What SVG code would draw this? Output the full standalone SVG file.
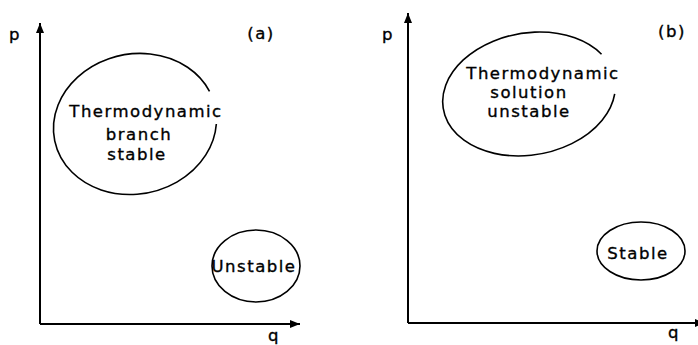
<svg xmlns="http://www.w3.org/2000/svg" width="698" height="345" viewBox="0 0 698 345">
<defs>
<style>
.ax{fill:none;stroke:#000;stroke-width:2}
.el{fill:none;stroke:#000;stroke-width:1.6}
text{font-family:"DejaVu Sans","Liberation Sans",sans-serif;font-size:16.5px;fill:#000;stroke:#000;stroke-width:0.35;letter-spacing:1.5px;text-anchor:middle}
</style>
<marker id="arr" viewBox="0 0 10 8" refX="10" refY="4" markerWidth="10" markerHeight="8" markerUnits="userSpaceOnUse" orient="auto">
<path d="M0,0 L10,4 L0,8 Z" fill="#000"/>
</marker>
</defs>
<g id="connectors">
<path class="ax" d="M40,324 V23" marker-end="url(#arr)"/>
<path class="ax" d="M40,324 H300" marker-end="url(#arr)"/>
<path class="ax" d="M408,323 V13" marker-end="url(#arr)"/>
<path class="ax" d="M408,323 H705" marker-end="url(#arr)"/>
</g>
<g id="labels">
<text x="15" y="40">p</text>
<text x="261" y="39">(a)</text>
<text x="274" y="341">q</text>
<text x="388" y="40">p</text>
<text x="672" y="37">(b)</text>
<text x="674" y="338">q</text>
</g>
<g id="node-a-stable">
<path class="el" transform="translate(135,124) rotate(-12)" d="M79.56,16.93 A82,70 0 1 1 79.7,-16.46"/>
<text x="146" y="117">Thermodynamic</text>
<text x="139" y="140">branch</text>
<text x="137" y="160">stable</text>
</g>
<g id="node-a-unstable">
<ellipse class="el" cx="256" cy="266" rx="44" ry="36"/>
<text x="254" y="272">Unstable</text>
</g>
<g id="node-b-unstable">
<path class="el" transform="translate(529,94) rotate(-10)" d="M84.42,14.76 A87,61 0 1 1 78.33,-26.55"/>
<text x="543" y="79">Thermodynamic</text>
<text x="529" y="98">solution</text>
<text x="529" y="117">unstable</text>
</g>
<g id="node-b-stable">
<ellipse class="el" cx="641" cy="251" rx="44" ry="29"/>
<text x="638" y="259">Stable</text>
</g>
</svg>
